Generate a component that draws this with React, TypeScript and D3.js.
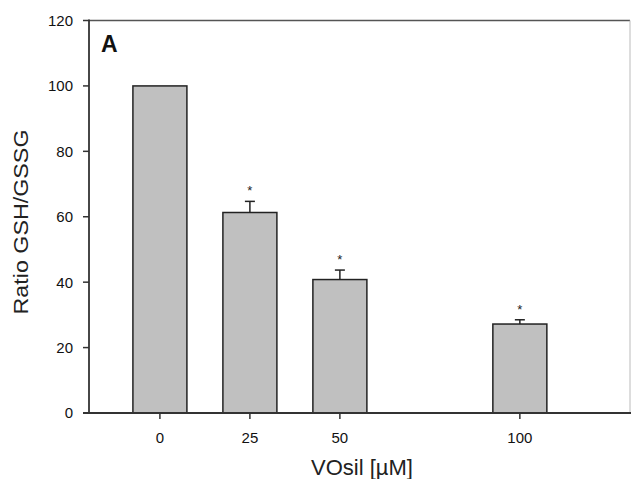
import React from "react";
import * as d3 from "d3";

const categories = [0, 25, 50, 100];
const means = [100, 61.3, 40.8, 27.2];
const errors = [0, 3.4, 2.9, 1.3];
const significant = [false, true, true, true];
const yTicks = [0, 20, 40, 60, 80, 100, 120];
const xTicks = [0, 25, 50, 100];

const W = 631;
const H = 479;
const left = 89;
const right = 630;
const top = 20.5;
const bottom = 413;

export default function App() {
  const x = d3.scaleLinear().domain([-19.7, 130.6]).range([left, right]);
  const y = d3.scaleLinear().domain([0, 120]).range([bottom, top]);
  const barW = 54;
  const font = "Arial, 'Liberation Sans', sans-serif";
  return (
    <svg
      width={W}
      height={H}
      style={{ position: "fixed", left: 0, top: 0, background: "#fff" }}
      fontFamily={font}
    >
      <rect x={0} y={0} width={W} height={H} fill="#fff" />
      {/* frame */}
      <line x1={left} x2={right} y1={top} y2={top} stroke="#555" strokeWidth={1.6} />
      <line x1={right} x2={right} y1={top} y2={bottom} stroke="#bbb" strokeWidth={1} />
      {/* bars */}
      {categories.map((c, i) => (
        <g key={c}>
          <rect
            x={x(c) - barW / 2}
            y={y(means[i])}
            width={barW}
            height={y(0) - y(means[i])}
            fill="#c0c0c0"
            stroke="#222"
            strokeWidth={1.5}
          />
          {errors[i] > 0 && (
            <g stroke="#222" strokeWidth={1.5}>
              <line x1={x(c)} x2={x(c)} y1={y(means[i])} y2={y(means[i] + errors[i])} />
              <line x1={x(c) - 5} x2={x(c) + 5} y1={y(means[i] + errors[i])} y2={y(means[i] + errors[i])} />
            </g>
          )}
          {significant[i] && (
            <text
              x={x(c)}
              y={y(means[i] + errors[i]) - 6}
              textAnchor="middle"
              fontSize={13}
              fill="#222"
            >
              *
            </text>
          )}
        </g>
      ))}
      {/* y axis */}
      <line x1={left} x2={left} y1={top - 1} y2={bottom} stroke="#333" strokeWidth={1.8} />
      {yTicks.map((t) => (
        <g key={t}>
          <line x1={left - 6} x2={left} y1={y(t)} y2={y(t)} stroke="#333" strokeWidth={1.5} />
          <text x={73} y={y(t)} dy="0.36em" textAnchor="end" fontSize={15} fill="#111">
            {t}
          </text>
        </g>
      ))}
      {/* x axis */}
      <line x1={left - 6} x2={W} y1={bottom} y2={bottom} stroke="#333" strokeWidth={1.8} />
      {xTicks.map((t) => (
        <g key={t}>
          <line x1={x(t)} x2={x(t)} y1={bottom} y2={bottom + 6} stroke="#333" strokeWidth={1.5} />
          <text x={x(t)} y={443} textAnchor="middle" fontSize={15} fill="#111">
            {t}
          </text>
        </g>
      ))}
      <text x={101} y={52} fontSize={23} fontWeight="bold" fill="#111">
        A
      </text>
      <text
        transform={`translate(28,222) rotate(-90)`}
        textAnchor="middle"
        fontSize={21}
        textLength={185}
        lengthAdjust="spacingAndGlyphs"
        fill="#222"
      >
        Ratio GSH/GSSG
      </text>
      <text x={362} y={475} textAnchor="middle" fontSize={22} fill="#222">
        VOsil [µM]
      </text>
    </svg>
  );
}
